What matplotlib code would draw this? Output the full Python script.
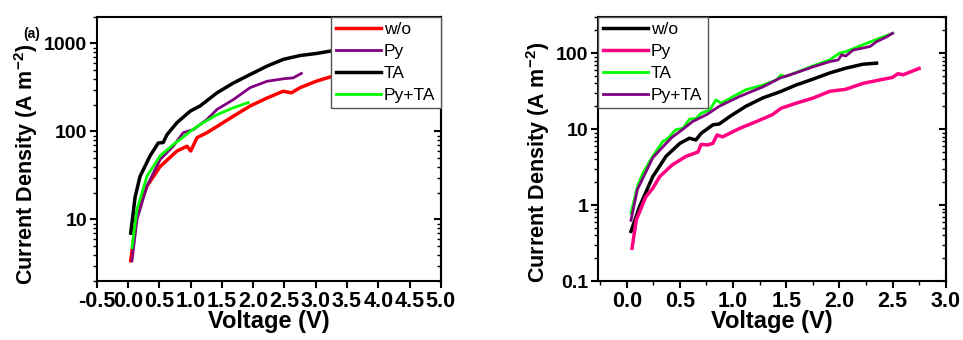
import numpy as np
import matplotlib
matplotlib.use("Agg")
import matplotlib.pyplot as plt
from matplotlib.ticker import LogLocator, MultipleLocator, NullFormatter

plt.rcParams["font.family"] = ["Liberation Sans", "DejaVu Sans"]
plt.rcParams["mathtext.default"] = "regular"

# (a) left panel
a_wo_v = [0.04, 0.14, 0.30, 0.51, 0.78, 0.94, 1.00, 1.10, 1.26, 1.47, 1.68, 1.95, 2.22, 2.48, 2.61, 2.75, 3.01, 3.28, 3.55]
a_wo_j = [3.4, 11.9, 24, 40, 60, 68, 60, 85, 97, 120, 149, 195, 240, 287, 275, 315, 373, 427, 470]
a_py_v = [0.06, 0.14, 0.30, 0.51, 0.72, 0.88, 1.04, 1.26, 1.42, 1.68, 1.95, 2.22, 2.48, 2.64, 2.77]
a_py_j = [3.4, 10, 24, 48, 68, 97, 105, 137, 178, 230, 315, 372, 397, 407, 457]
a_ta_v = [0.04, 0.11, 0.19, 0.35, 0.48, 0.56, 0.62, 0.78, 0.99, 1.15, 1.42, 1.68, 1.95, 2.22, 2.48, 2.75, 3.01, 3.28, 3.39, 3.6]
a_ta_j = [7, 18, 31, 53, 74, 75, 92, 126, 170, 195, 275, 355, 444, 553, 660, 730, 770, 830, 870, 930]
a_pyta_v = [0.06, 0.14, 0.30, 0.51, 0.72, 0.83, 0.99, 1.15, 1.42, 1.68, 1.92]
a_pyta_j = [4.8, 13, 31, 53, 71, 81, 100, 120, 155, 186, 213]

# (b) right panel
b_wo_v = [0.04, 0.12, 0.245, 0.37, 0.50, 0.59, 0.65, 0.70, 0.81, 0.87, 0.97, 1.12, 1.28, 1.44, 1.59, 1.75, 1.91, 2.06, 2.22, 2.35]
b_wo_j = [0.45, 0.95, 2.37, 4.4, 6.5, 7.6, 7.2, 8.8, 11.4, 11.7, 14.7, 20, 25.8, 31, 38, 45.5, 55, 63.5, 71.6, 74]
b_py_v = [0.05, 0.09, 0.18, 0.245, 0.31, 0.43, 0.56, 0.67, 0.70, 0.76, 0.81, 0.85, 0.90, 1.06, 1.22, 1.37, 1.45, 1.59, 1.75, 1.91, 2.06, 2.22, 2.38, 2.50, 2.55, 2.60, 2.75]
b_py_j = [0.27, 0.64, 1.29, 1.66, 2.37, 3.4, 4.4, 5.0, 6.3, 6.2, 6.5, 8.4, 7.9, 10.2, 12.6, 15.5, 18.8, 21.9, 25.6, 31.5, 33.5, 40, 44.5, 48, 53.7, 52, 63]
b_ta_v = [0.04, 0.10, 0.15, 0.245, 0.34, 0.39, 0.46, 0.53, 0.59, 0.65, 0.70, 0.78, 0.84, 0.89, 1.00, 1.12, 1.28, 1.41, 1.45, 1.49, 1.59, 1.75, 1.91, 2.00, 2.06, 2.22, 2.38, 2.50]
b_ta_j = [0.78, 1.74, 2.6, 4.4, 6.9, 7.6, 9.8, 10.3, 13.5, 13.8, 16.2, 17.9, 24.3, 21.9, 26.9, 33, 38, 44.6, 51.5, 49, 55.6, 68, 81.7, 100, 105, 129, 158, 183]
b_pyta_v = [0.04, 0.10, 0.245, 0.37, 0.43, 0.50, 0.62, 0.75, 0.87, 1.06, 1.28, 1.44, 1.59, 1.75, 1.91, 1.99, 2.02, 2.06, 2.13, 2.22, 2.29, 2.35, 2.44, 2.50]
b_pyta_j = [0.63, 1.6, 4.2, 6.5, 7.9, 9.3, 12.6, 15.5, 20, 26.9, 36, 47, 55, 66, 77.5, 81.7, 95, 92, 110, 117, 123, 142, 163, 183]

fig = plt.figure(figsize=(9.63, 3.40), dpi=100)
ax1 = fig.add_axes([0.1007, 0.1735, 0.357, 0.7765])
ax2 = fig.add_axes([0.621, 0.1735, 0.361, 0.7765])

ax1.plot(a_wo_v, a_wo_j, color="#ff0000", lw=2.5, label="w/o")
ax1.plot(a_py_v, a_py_j, color="#800080", lw=2, label="Py")
ax1.plot(a_ta_v, a_ta_j, color="black", lw=2.5, label="TA")
ax1.plot(a_pyta_v, a_pyta_j, color="#00ff00", lw=2, label="Py+TA")

ax2.plot(b_wo_v, b_wo_j, color="black", lw=2.5, label="w/o")
ax2.plot(b_py_v, b_py_j, color="#ff0080", lw=2.5, label="Py")
ax2.plot(b_ta_v, b_ta_j, color="#00ff00", lw=2, label="TA")
ax2.plot(b_pyta_v, b_pyta_j, color="#800080", lw=2, label="Py+TA")

ax1.set_xlim(-0.5, 5.0)
ax1.set_ylim(2, 2000)
ax2.set_xlim(-0.27, 3.0)
ax2.set_ylim(0.1, 300)

ax1.xaxis.set_major_locator(MultipleLocator(0.5))
ax2.xaxis.set_major_locator(MultipleLocator(0.5))
ax2.xaxis.set_minor_locator(MultipleLocator(0.25))

for ax in (ax1, ax2):
    ax.set_yscale("log")
    ax.yaxis.set_major_locator(LogLocator(base=10))
    ax.yaxis.set_minor_locator(LogLocator(base=10, subs=np.arange(2, 10)))
    ax.yaxis.set_minor_formatter(NullFormatter())
    ax.yaxis.set_major_formatter(plt.FuncFormatter(lambda v, p: f"{v:g}"))
    ax.xaxis.set_major_formatter(plt.FuncFormatter(lambda v, p: f"{v:.1f}"))
    for s in ax.spines.values():
        s.set_linewidth(1.5)
    ax.tick_params(which="major", direction="out", length=5, width=1.5, top=False, right=False)
    ax.tick_params(which="minor", direction="out", length=3, width=1, top=False, right=False)
    ax.tick_params(axis="y", which="major", labelsize=14, pad=2)
    ax.tick_params(axis="x", which="major", labelsize=15.5, pad=2)
    for lab in ax.get_xticklabels() + ax.get_yticklabels():
        lab.set_fontweight("bold")
    ax.set_xlabel("Voltage (V)", fontsize=17, fontweight="bold", labelpad=-1)
    ax.set_ylabel("Current Density (A m$^{-2}$)", fontsize=15.5, fontweight="bold")
    # mirrored ticks on the right spine, pointing inwards
    sec = ax.secondary_yaxis("right")
    sec.yaxis.set_major_locator(LogLocator(base=10))
    sec.yaxis.set_minor_locator(LogLocator(base=10, subs=np.arange(2, 10)))
    sec.tick_params(which="major", direction="in", length=5, width=1.5, labelright=False)
    sec.tick_params(which="minor", direction="in", length=3, width=1, labelright=False)
    sec.spines["right"].set_linewidth(1.5)

ax1.yaxis.set_label_coords(-0.166, 0.443)
ax2.yaxis.set_label_coords(-0.132, 0.447)

leg_kw = dict(fontsize=12.5, frameon=True, fancybox=False, borderaxespad=0,
              handlelength=2.6, handletextpad=0.15, labelspacing=0.38, borderpad=0.3)
l1 = ax1.legend(loc="upper right", **leg_kw)
l2 = ax2.legend(loc="upper left", **leg_kw)
for l in (l1, l2):
    l.get_frame().set_edgecolor("#555555")
    l.get_frame().set_linewidth(1)
    l.get_frame().set_alpha(1)
    l.set_zorder(10)

fig.text(0.024, 0.9, "(a)", fontsize=10, fontweight="bold", va="center")

fig.savefig("out.png", dpi=100)
